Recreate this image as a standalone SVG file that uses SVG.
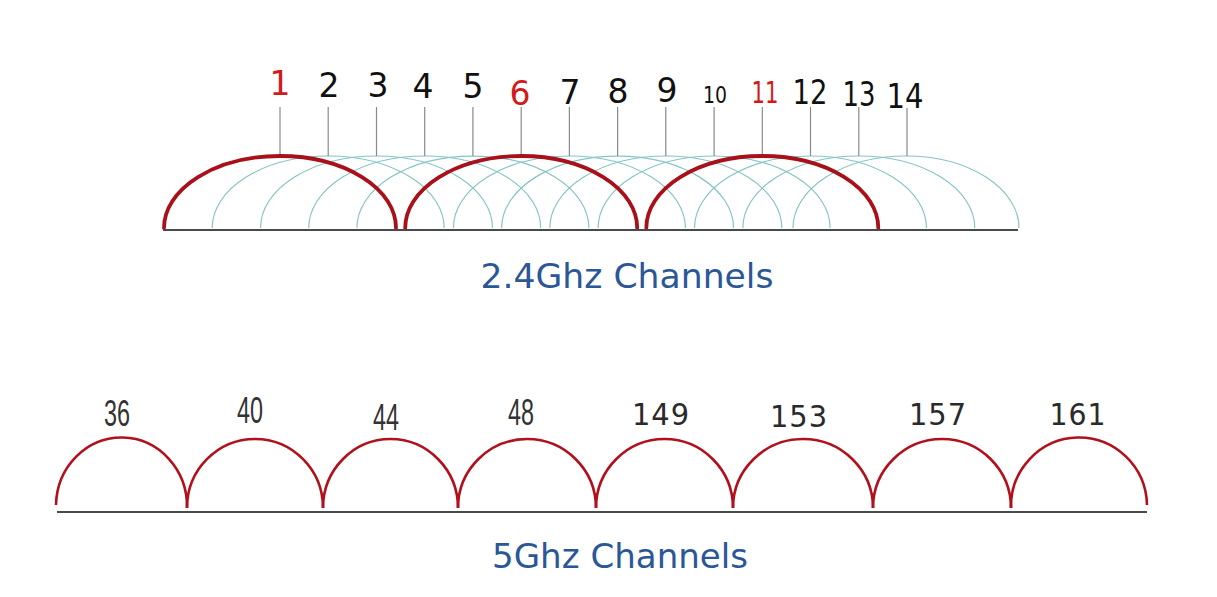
<svg xmlns="http://www.w3.org/2000/svg" width="1217" height="597" viewBox="0 0 1217 597">
<style>
.bg{fill:#ffffff}
.base{stroke:#4a4a4a;stroke-width:2;fill:none}
.tick{stroke:#8a8a8a;stroke-width:1.2;fill:none}
.teal{stroke:#86c4c4;stroke-width:1.2;fill:none}
.red24{stroke:#a8101a;stroke-width:3.8;fill:none;stroke-linecap:round}
.red5{stroke:#b0111c;stroke-width:2.6;fill:none}
.n24{font-family:"DejaVu Sans",Verdana,sans-serif;font-size:33px;fill:#111;text-anchor:middle}
.hot{fill:#d21a1a}
.n5a{font-family:"Liberation Sans",Arial,sans-serif;font-size:36px;fill:#333;text-anchor:middle}
.n5b{font-family:"DejaVu Sans",Verdana,sans-serif;font-size:30px;fill:#2a2a2a;text-anchor:middle;letter-spacing:1px}
.title{font-family:"DejaVu Sans",Verdana,sans-serif;font-size:33px;fill:#2b5797;text-anchor:middle}
</style>
<rect class="bg" x="0" y="0" width="1217" height="597"/>

<!-- 2.4 GHz overlapping arcs (teal, under the red ones) -->
<g id="arcs24-teal">
<path class="teal" d="M212.2 228 A116 72 0 0 1 444.2 228"/>
<path class="teal" d="M260.5 228 A116 72 0 0 1 492.5 228"/>
<path class="teal" d="M308.7 228 A116 72 0 0 1 540.7 228"/>
<path class="teal" d="M356.9 228 A116 72 0 0 1 588.9 228"/>
<path class="teal" d="M453.4 228 A116 72 0 0 1 685.4 228"/>
<path class="teal" d="M501.6 228 A116 72 0 0 1 733.6 228"/>
<path class="teal" d="M549.8 228 A116 72 0 0 1 781.8 228"/>
<path class="teal" d="M598.1 228 A116 72 0 0 1 830.1 228"/>
<path class="teal" d="M694.5 228 A116 72 0 0 1 926.5 228"/>
<path class="teal" d="M742.8 228 A116 72 0 0 1 974.8 228"/>
<path class="teal" d="M793 228 A113 72 0 0 1 1019 228"/>
</g>

<g id="ch24-1"><line class="tick" x1="280" y1="107" x2="280" y2="156"/><text class="n24 hot" x="280" y="95">1</text><path class="red24" d="M164 228 A116 72 0 0 1 396 228"/></g>
<g id="ch24-2"><line class="tick" x1="328.2" y1="107" x2="328.2" y2="156"/><text class="n24" x="329" y="97">2</text></g>
<g id="ch24-3"><line class="tick" x1="376.5" y1="107" x2="376.5" y2="156"/><text class="n24" x="378" y="97">3</text></g>
<g id="ch24-4"><line class="tick" x1="424.7" y1="107" x2="424.7" y2="156"/><text class="n24" x="423" y="98">4</text></g>
<g id="ch24-5"><line class="tick" x1="472.9" y1="107" x2="472.9" y2="156"/><text class="n24" x="473" y="98">5</text></g>
<g id="ch24-6"><line class="tick" x1="521.2" y1="107" x2="521.2" y2="156"/><text class="n24 hot" x="520" y="105">6</text><path class="red24" d="M405.2 228 A116 72 0 0 1 637.2 228"/></g>
<g id="ch24-7"><line class="tick" x1="569.4" y1="107" x2="569.4" y2="156"/><text class="n24" x="570" y="104">7</text></g>
<g id="ch24-8"><line class="tick" x1="617.6" y1="107" x2="617.6" y2="156"/><text class="n24" x="618" y="103">8</text></g>
<g id="ch24-9"><line class="tick" x1="665.8" y1="107" x2="665.8" y2="156"/><text class="n24" x="667" y="102">9</text></g>
<g id="ch24-10"><line class="tick" x1="714.1" y1="107" x2="714.1" y2="156"/><text class="n24" style="font-size:23px" x="715" y="103" textLength="24" lengthAdjust="spacingAndGlyphs">10</text></g>
<g id="ch24-11"><line class="tick" x1="762.3" y1="107" x2="762.3" y2="156"/><text class="n24 hot" style="font-size:31px" x="765" y="103" textLength="27" lengthAdjust="spacingAndGlyphs">11</text><path class="red24" d="M646.3 228 A116 72 0 0 1 878.3 228"/></g>
<g id="ch24-12"><line class="tick" x1="810.5" y1="107" x2="810.5" y2="156"/><text class="n24" x="810" y="104" textLength="35" lengthAdjust="spacingAndGlyphs">12</text></g>
<g id="ch24-13"><line class="tick" x1="858.8" y1="107" x2="858.8" y2="156"/><text class="n24" x="859" y="106" textLength="33" lengthAdjust="spacingAndGlyphs">13</text></g>
<g id="ch24-14"><line class="tick" x1="907" y1="108" x2="907" y2="156"/><text class="n24" x="905" y="108" textLength="37" lengthAdjust="spacingAndGlyphs">14</text></g>

<g id="baselines">
<line class="base" x1="163" y1="230" x2="1018" y2="230"/>
<line class="base" x1="57" y1="512" x2="1147" y2="512"/>
</g>

<g id="title24"><text class="title" x="627" y="288" textLength="293" lengthAdjust="spacingAndGlyphs">2.4Ghz Channels</text></g>

<g id="ch5-36"><text class="n5a" x="117" y="426" textLength="26" lengthAdjust="spacingAndGlyphs">36</text><path class="red5" d="M56 505 A65.5 69 0 0 1 187 508"/></g>
<g id="ch5-40"><text class="n5a" x="250" y="423" textLength="26" lengthAdjust="spacingAndGlyphs">40</text><path class="red5" d="M187 508 A68 69 0 0 1 323 508"/></g>
<g id="ch5-44"><text class="n5a" x="386" y="430" textLength="26" lengthAdjust="spacingAndGlyphs">44</text><path class="red5" d="M323 508 A67.5 69 0 0 1 458 508"/></g>
<g id="ch5-48"><text class="n5a" x="521" y="425" textLength="26" lengthAdjust="spacingAndGlyphs">48</text><path class="red5" d="M458 508 A69 69 0 0 1 596 508"/></g>
<g id="ch5-149"><text class="n5b" x="661" y="425" textLength="58" lengthAdjust="spacingAndGlyphs">149</text><path class="red5" d="M596 508 A68.5 69 0 0 1 733 508"/></g>
<g id="ch5-153"><text class="n5b" x="799" y="427" textLength="58" lengthAdjust="spacingAndGlyphs">153</text><path class="red5" d="M733 508 A70 69 0 0 1 873 508"/></g>
<g id="ch5-157"><text class="n5b" x="938" y="425" textLength="58" lengthAdjust="spacingAndGlyphs">157</text><path class="red5" d="M873 508 A69 69 0 0 1 1011 508"/></g>
<g id="ch5-161"><text class="n5b" x="1078" y="425" textLength="57" lengthAdjust="spacingAndGlyphs">161</text><path class="red5" d="M1011 508 A68 69 0 0 1 1147 505"/></g>

<g id="title5"><text class="title" x="620" y="568" textLength="256" lengthAdjust="spacingAndGlyphs">5Ghz Channels</text></g>
</svg>
